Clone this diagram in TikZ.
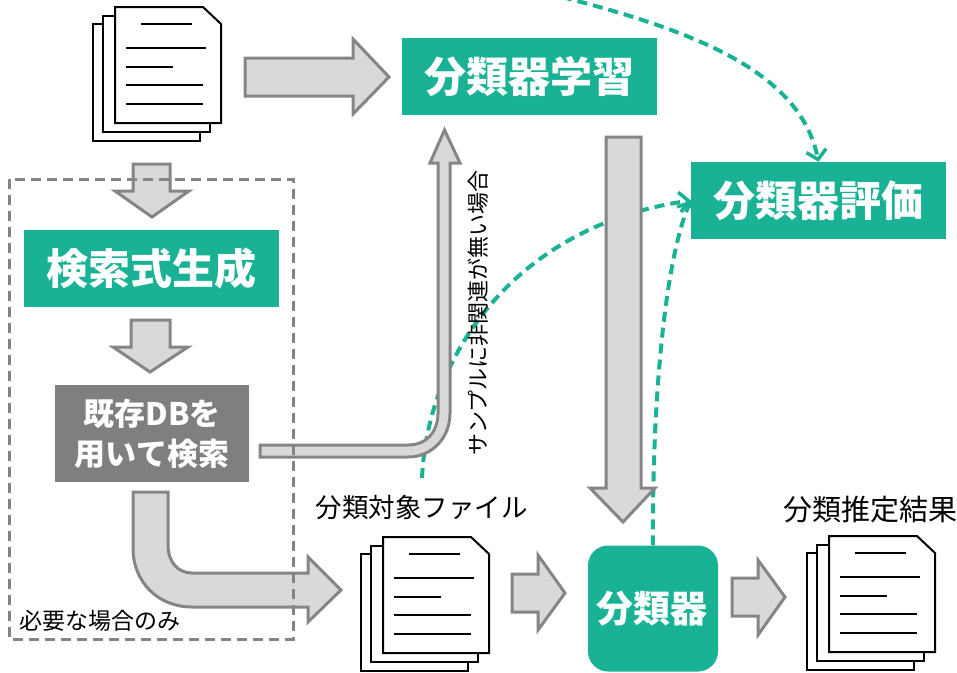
\documentclass[tikz,border=0pt]{standalone}
\usepackage{fontspec}
\setmainfont{Noto Sans CJK JP}
\usetikzlibrary{arrows.meta}
\definecolor{boxgreen}{HTML}{19B294}
\definecolor{boxgray}{HTML}{7F7F7F}
\definecolor{arrowfill}{HTML}{D9D9D9}
\definecolor{arrowline}{HTML}{858585}
\tikzset{
	greenbox/.style={fill=boxgreen, text=white, font=\fontsize{42}{46}\selectfont\bfseries, inner sep=0pt, minimum width=255pt, minimum height=77pt},
	graybox/.style={fill=boxgray, text=white, font=\fontsize{31}{40}\selectfont\bfseries, inner sep=0pt, minimum width=194pt, minimum height=97pt, align=center},
	blockarrow/.style={draw=arrowline, fill=arrowfill, line width=3pt, line join=miter},
	evalline/.style={draw=boxgreen, line width=4pt, dash pattern=on 10pt off 6pt},
	evalarrow/.style={evalline, -{Straight Barb[length=9pt,width=20pt,line width=3.5pt]}},
	caption/.style={inner sep=0pt, font=\fontsize{26.5}{28}\selectfont},
	docsheet/.style={draw=black, fill=white, line width=2pt, line join=miter},
	docline/.style={draw=black, line width=2pt},
	docstack/.pic={
		\draw[docsheet] (-22,17) rectangle (85,134);
		\draw[docsheet] (-12,9) rectangle (95,125);
		\draw[docsheet] (0,0) -- (88,0) -- (106,17) -- (106,116) -- (0,116) -- cycle;
		\draw[docline] (26,17) -- (77,17);
		\draw[docline] (11,41) -- (91,41);
		\draw[docline] (11,60) -- (58,60);
		\draw[docline] (11,78) -- (88,78);
		\draw[docline] (11,97) -- (88,97);
	}
}
\begin{document}
\begin{tikzpicture}[x=1pt, y=-1pt]
	\useasboundingbox (0,0) rectangle (957,672);
	\clip (0,0) rectangle (957,672);

	\node[greenbox] (train) at (529.5,76.5) {分類器学習};
	\node[greenbox] (evaluate) at (818.5,200.5) {分類器評価};
	\node[greenbox] (query) at (151.5,268) {検索式生成};
	\node[graybox] (search) at (152,433.5) {既存DBを\\用いて検索};
	\node[greenbox, rounded corners=20pt, minimum width=130pt, minimum height=126pt, font=\fontsize{37}{40}\selectfont\bfseries] (classifier) at (653,608.5) {分類器\kern2pt};

	\coordinate (topstart) at (562,-3);
	\coordinate (filestart) at (422,478);
	\draw[evalarrow] (topstart) .. controls (690,30) and (800,70) .. (evaluate.north);
	\draw[evalarrow] (filestart) .. controls (428,350) and (520,225) .. (evaluate.west);
	\draw[evalarrow] (classifier.north) .. controls (652,400) and (665,260) .. (evaluate.west);

	\draw[blockarrow] (245,58) -- (353,58) -- (353,39) -- (389,77) -- (353,114) -- (353,96) -- (245,96) -- cycle;
	\draw[blockarrow] (133,164) -- (170,164) -- (170,191) -- (189,191) -- (152,217) -- (115,191) -- (133,191) -- cycle;
	\draw[blockarrow] (131,320) -- (170,320) -- (170,347) -- (188,347) -- (150,372) -- (113,347) -- (131,347) -- cycle;
	\draw[blockarrow] (260,445) -- (408,445) .. controls (428,445) and (438,430) .. (438,413) -- (438,163) -- (430,163) -- (444.5,130) -- (460,163) -- (450,163) -- (450,413) .. controls (450,438) and (432,457) .. (408,457) -- (260,457) -- cycle;
	\draw[blockarrow] (606,137) -- (641,137) -- (641,488) -- (655,488) -- (623,522) -- (590,488) -- (606,488) -- cycle;
	\draw[blockarrow] (133,492) -- (168,492) -- (168,545) .. controls (168,562) and (178,573) .. (192,573) -- (308,573) -- (308,557) -- (341,590) -- (308,622) -- (308,607) -- (192,607) .. controls (158,607) and (133,582) .. (133,548) -- cycle;
	\draw[blockarrow] (512,574) -- (538,574) -- (538,555) -- (565,593) -- (538,630) -- (538,612) -- (512,612) -- cycle;
	\draw[blockarrow] (732,578) -- (758,578) -- (758,560) -- (785,597) -- (758,635) -- (758,616) -- (732,616) -- cycle;

	\draw[draw=arrowline, line width=3pt, dash pattern=on 10pt off 6pt] (9,179) rectangle (293,639);

	\pic at (115,7) {docstack};
	\pic at (383,537) {docstack};
	\pic at (829,536) {docstack};

	\node[caption] (targetlabel) at (421.5,507) {分類対象ファイル};
	\node[caption, font=\fontsize{29}{31}\selectfont] (resultlabel) at (870,510) {分類推定結果};
	\node[caption, font=\fontsize{23}{25}\selectfont] (onlylabel) at (100,621) {必要な場合のみ};
	\node[caption, rotate=90, font=\fontsize{22}{24}\selectfont] (nosample) at (478,313) {サンプルに非関連が無い場合};
\end{tikzpicture}
\end{document}
